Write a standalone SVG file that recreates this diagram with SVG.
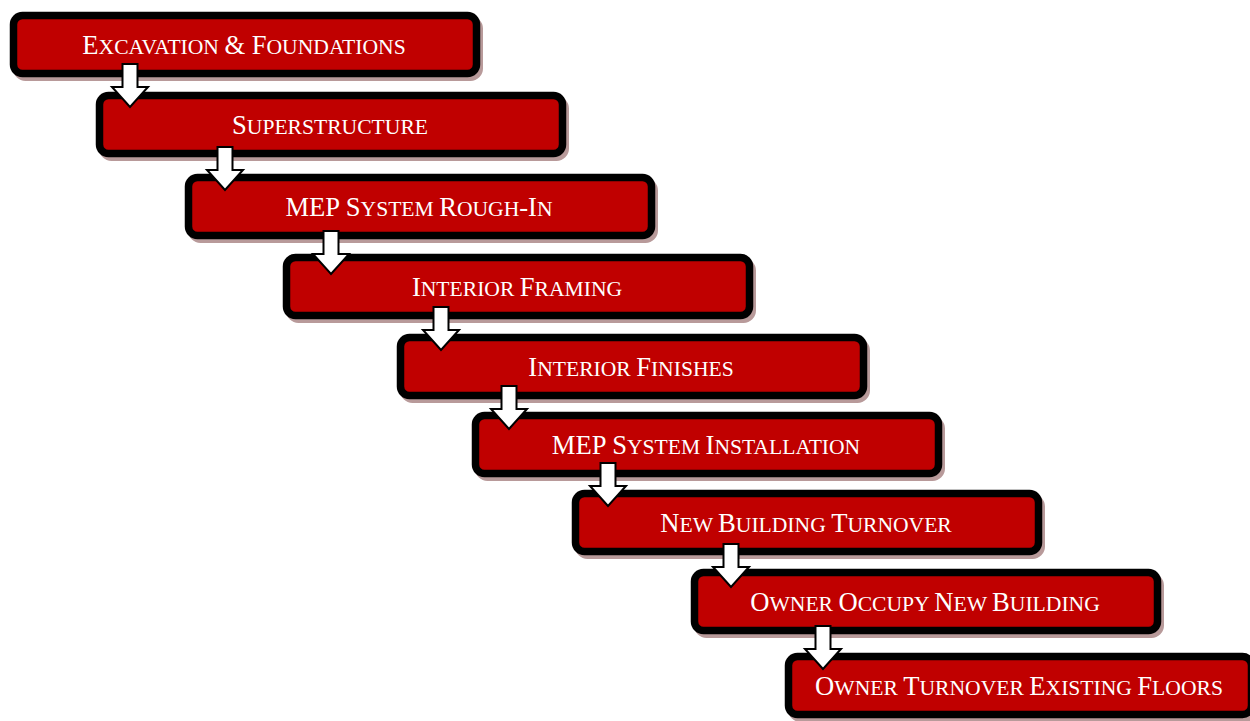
<svg xmlns="http://www.w3.org/2000/svg" xmlns:xlink="http://www.w3.org/1999/xlink" width="1250" height="721" viewBox="0 0 1250 721">
<style>
.shadow{fill:#b89a9a;stroke:#b89a9a;stroke-width:7}
.box{fill:#c00000;stroke:#000;stroke-width:7.5}
.lbl{font-family:"Liberation Serif","Times New Roman",serif;font-size:21.6px;fill:#fff;text-anchor:middle}
.b{font-size:26.6px}
.arrow{fill:#fff;stroke:#000;stroke-width:2;stroke-linejoin:miter}
</style>
<defs>
<g id="card">
<rect class="shadow" x="6.5" y="7.5" width="463" height="58" rx="9"/>
<rect class="box" x="3.5" y="3.5" width="463" height="58" rx="9"/>
</g>
<path id="arr" class="arrow" d="M-7.5,0 H7.5 V23 H18 L0,43 L-18,23 H-7.5 Z"/>
</defs>
<rect width="1250" height="721" fill="#fff"/>
<g id="n1" transform="translate(10,12)"><use xlink:href="#card"/><text class="lbl" x="234" y="42"><tspan class="b">E</tspan>XCAVATION <tspan class="b">&amp; F</tspan>OUNDATIONS</text></g>
<g id="n2" transform="translate(96,92)"><use xlink:href="#card"/><text class="lbl" x="234" y="42"><tspan class="b">S</tspan>UPERSTRUCTURE</text></g>
<g id="n3" transform="translate(185,174)"><use xlink:href="#card"/><text class="lbl" x="234" y="42"><tspan class="b">MEP S</tspan>YSTEM <tspan class="b">R</tspan>OUGH<tspan class="b">-I</tspan>N</text></g>
<g id="n4" transform="translate(283,254)"><use xlink:href="#card"/><text class="lbl" x="234" y="42"><tspan class="b">I</tspan>NTERIOR <tspan class="b">F</tspan>RAMING</text></g>
<g id="n5" transform="translate(397,334)"><use xlink:href="#card"/><text class="lbl" x="234" y="42"><tspan class="b">I</tspan>NTERIOR <tspan class="b">F</tspan>INISHES</text></g>
<g id="n6" transform="translate(472,412)"><use xlink:href="#card"/><text class="lbl" x="234" y="42"><tspan class="b">MEP S</tspan>YSTEM <tspan class="b">I</tspan>NSTALLATION</text></g>
<g id="n7" transform="translate(572,490)"><use xlink:href="#card"/><text class="lbl" x="234" y="42"><tspan class="b">N</tspan>EW <tspan class="b">B</tspan>UILDING <tspan class="b">T</tspan>URNOVER</text></g>
<g id="n8" transform="translate(691,569)"><use xlink:href="#card"/><text class="lbl" x="234" y="42"><tspan class="b">O</tspan>WNER <tspan class="b">O</tspan>CCUPY <tspan class="b">N</tspan>EW <tspan class="b">B</tspan>UILDING</text></g>
<g id="n9" transform="translate(785,653)"><use xlink:href="#card"/><text class="lbl" x="234" y="42"><tspan class="b">O</tspan>WNER <tspan class="b">T</tspan>URNOVER <tspan class="b">E</tspan>XISTING <tspan class="b">F</tspan>LOORS</text></g>
<g id="connectors">
<use xlink:href="#arr" transform="translate(130,64)"/>
<use xlink:href="#arr" transform="translate(225,147)"/>
<use xlink:href="#arr" transform="translate(331,231)"/>
<use xlink:href="#arr" transform="translate(441,307)"/>
<use xlink:href="#arr" transform="translate(509,386)"/>
<use xlink:href="#arr" transform="translate(608,463)"/>
<use xlink:href="#arr" transform="translate(731,544)"/>
<use xlink:href="#arr" transform="translate(823,626)"/>
</g>
</svg>
